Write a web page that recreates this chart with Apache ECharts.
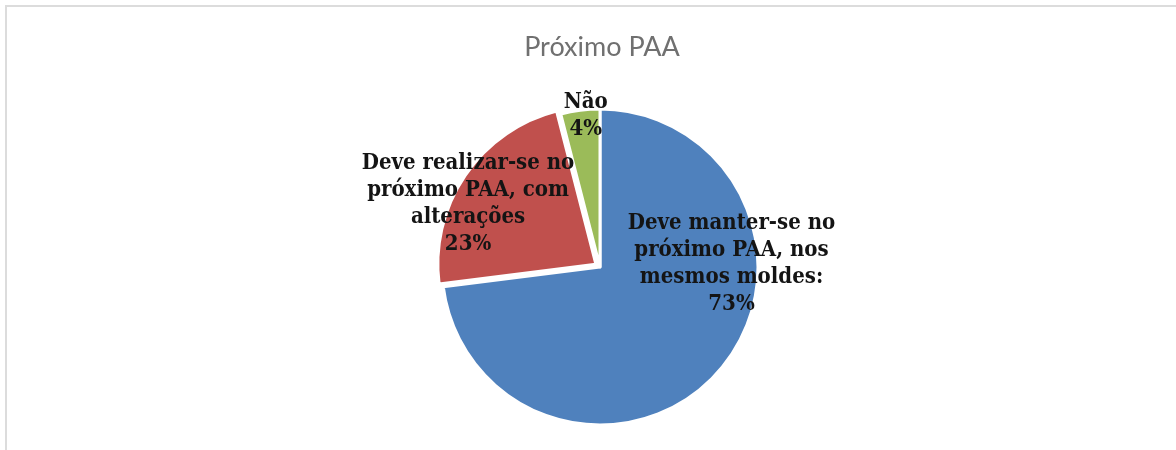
<!DOCTYPE html>
<html>
<head>
<meta charset="utf-8">
<script src="https://cdn.jsdelivr.net/npm/echarts@6/dist/echarts.min.js"></script>
<style>
  html, body { margin: 0; padding: 0; background: #fff; }
  #chart { width: 1176px; height: 450px; }
</style>
</head>
<body>
<div id="chart"></div>
<script>
// Survey answers: should the activity continue in the next PAA?
const chartTitle = 'Próximo PAA';
const categories = [
  'Deve manter-se no\npróximo PAA, nos\nmesmos moldes:',
  'Deve realizar-se no\npróximo PAA, com\nalterações',
  'Não'
];
const values = [73, 23, 4];
const colors = ['#4F81BD', '#C0504D', '#9BBB59'];
const pulledOut = [false, true, false];
const labelShift = [[70, -57], [-60, -14], [-4, -70]];

const chart = echarts.init(document.getElementById('chart'), null, { renderer: 'canvas' });

const labelFont = '"DejaVu Serif Condensed", "DejaVu Serif", serif';

chart.setOption({
  animation: false,
  backgroundColor: '#ffffff',
  title: {
    text: chartTitle,
    left: 597,
    top: 29,
    textAlign: 'center',
    textStyle: {
      fontFamily: 'Lato, "Open Sans", sans-serif',
      fontWeight: 'normal',
      fontSize: 27,
      color: '#707070'
    }
  },
  graphic: [{
    type: 'rect',
    shape: { x: 6, y: 6, width: 1200, height: 500 },
    style: { fill: 'none', stroke: '#dcdcdc', lineWidth: 2 },
    silent: true
  }],
  series: [{
    type: 'pie',
    center: [600, 267],
    radius: 158,
    startAngle: 90,
    clockwise: true,
    silent: true,
    selectedMode: 'multiple',
    selectedOffset: 5,
    itemStyle: { borderColor: '#ffffff', borderWidth: 3 },
    label: {
      show: true,
      position: 'inside',
      formatter: '{b}\n{c}%',
      fontFamily: labelFont,
      fontWeight: 'bold',
      fontSize: 22,
      lineHeight: 27,
      color: '#141414',
      align: 'center'
    },
    labelLine: { show: false },
    labelLayout: function (params) {
      const s = labelShift[params.dataIndex];
      return { dx: s[0], dy: s[1] };
    },
    data: categories.map((name, i) => ({
      name: name,
      value: values[i],
      selected: pulledOut[i],
      itemStyle: { color: colors[i] }
    }))
  }]
});
</script>
</body>
</html>
